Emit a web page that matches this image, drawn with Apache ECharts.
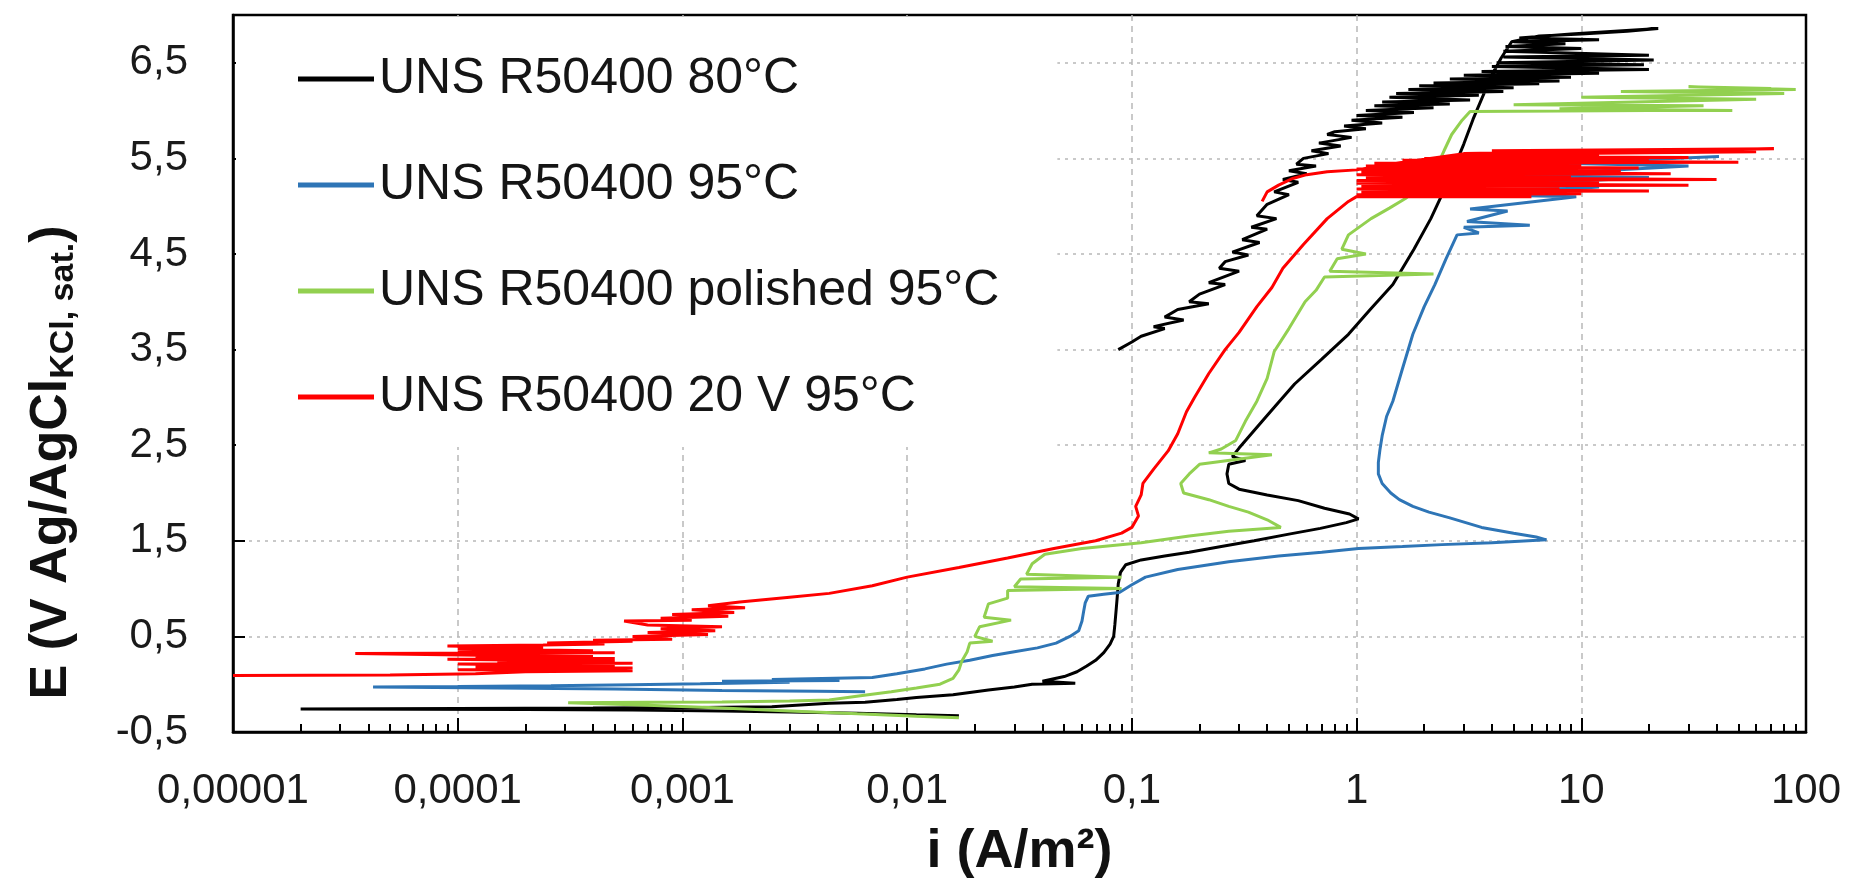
<!DOCTYPE html>
<html>
<head>
<meta charset="utf-8">
<script src="https://cdn.jsdelivr.net/npm/echarts@6/dist/echarts.min.js"></script>
<style>
html,body{margin:0;padding:0;background:#fff;}
#chart{width:1853px;height:884px;}
</style>
</head>
<body>
<div id="chart"></div>
<script>
// ---------- data ----------
const seriesNames = ['UNS R50400 80°C', 'UNS R50400 95°C', 'UNS R50400 polished 95°C', 'UNS R50400 20 V 95°C'];
const seriesColors = ['#000000', '#2e75b6', '#92d050', '#ff0000'];
const xTickLabels = ['0,00001', '0,0001', '0,001', '0,01', '0,1', '1', '10', '100'];
const yTickLabels = ['-0,5', '0,5', '1,5', '2,5', '3,5', '4,5', '5,5', '6,5'];
const minorMultipliers = [2, 3, 4, 5, 6, 7, 8, 9];

// [i (A/m2), E (V)]
const black80 = [
[0.017,-0.33],[0.011,-0.32],[0.006,-0.305],[0.003,-0.29],[0.0015,-0.28],[0.0006,-0.27],[0.0002,-0.265],[0.00002,-0.26],[0.0001,-0.255],[0.0004,-0.25],[0.0012,-0.245],[0.0025,-0.235],[0.0045,-0.2],[0.0065,-0.19],[0.009,-0.16],[0.011,-0.14],[0.016,-0.11],[0.023,-0.06],[0.03,-0.03],[0.036,0.0],[0.056,0.01],[0.04,0.03],[0.05,0.08],[0.057,0.13],[0.063,0.19],[0.069,0.25],[0.075,0.33],[0.08,0.42],[0.083,0.5],[0.084,0.62],[0.085,0.76],[0.086,0.9],[0.087,1.05],[0.089,1.17],[0.094,1.25],[0.11,1.3],[0.14,1.34],[0.18,1.38],[0.25,1.44],[0.35,1.5],[0.5,1.57],[0.69,1.63],[0.9,1.69],[1.02,1.73],[0.93,1.78],[0.72,1.84],[0.55,1.92],[0.4,1.98],[0.3,2.04],[0.27,2.1],[0.265,2.2],[0.27,2.3],[0.32,2.34],[0.28,2.38],[0.3,2.47],[0.38,2.75],[0.45,2.95],[0.53,3.14],[0.7,3.4],[0.92,3.66],[1.15,3.92],[1.45,4.18],[1.8,4.55],[2.14,4.87],[2.4,5.12],[2.7,5.39],[3.0,5.65],[3.3,5.91],[3.6,6.12],[4.0,6.37],[4.4,6.55],[4.9,6.72],[6.5,6.78],[10,6.8],[16,6.83],[22,6.86],
[9,6.8],[5.3,6.76],[12,6.74],[5,6.72],[8.5,6.7],[4.6,6.67],[10,6.65],[4.5,6.62],[20,6.58],[4.5,6.56],[21,6.53],[4.2,6.5],[19,6.48],[4,6.46],[20,6.43],[3.6,6.41],[12,6.39],[3.0,6.37],[9,6.35],[2.6,6.33],[8,6.31],[2.2,6.29],[6.5,6.28],[1.9,6.26],[5,6.24],[1.7,6.22],[4.5,6.2],[1.5,6.18],[3.5,6.16],[1.4,6.14],[3.2,6.11],[1.3,6.09],[2.6,6.07],[1.2,6.05],[2.2,6.03],[1.1,6.0],[1.8,5.98],[1.0,5.95],[1.6,5.93],[0.95,5.9],[1.3,5.87],[0.88,5.84],[1.1,5.81],[0.8,5.78],[0.74,5.75],[0.95,5.72],[0.68,5.66],[0.85,5.63],[0.63,5.58],[0.75,5.55],[0.58,5.5],[0.54,5.44],[0.66,5.42],[0.5,5.37],[0.6,5.34],[0.47,5.28],[0.55,5.25],[0.43,5.15],[0.5,5.12],[0.4,5.02],[0.36,4.9],[0.44,4.87],[0.34,4.78],[0.4,4.76],[0.31,4.65],[0.37,4.62],[0.28,4.52],[0.33,4.49],[0.26,4.42],[0.245,4.35],[0.3,4.32],[0.22,4.2],[0.26,4.18],[0.2,4.08],[0.18,4.0],[0.22,3.98],[0.16,3.92],[0.14,3.84],[0.17,3.81],[0.125,3.74],[0.14,3.72],[0.11,3.64],[0.1,3.58],[0.087,3.5]
];
const blue95 = [
[0.0065,-0.08],[0.004,-0.075],[0.0015,-0.065],[0.0005,-0.05],[0.00015,-0.04],[0.000042,-0.03],[0.0001,-0.025],[0.00026,-0.015],[0.0006,-0.005],[0.0012,0.005],[0.003,0.02],[0.0015,0.03],[0.005,0.04],[0.0025,0.05],[0.007,0.07],[0.009,0.11],[0.012,0.16],[0.015,0.21],[0.019,0.25],[0.024,0.3],[0.03,0.34],[0.038,0.38],[0.046,0.43],[0.053,0.5],[0.058,0.56],[0.06,0.66],[0.061,0.76],[0.062,0.85],[0.064,0.92],[0.075,0.94],[0.088,0.96],[0.1,1.04],[0.115,1.12],[0.16,1.2],[0.27,1.28],[0.45,1.34],[0.7,1.38],[1.02,1.42],[1.6,1.44],[2.4,1.46],[4,1.48],[7.0,1.51],[6.3,1.54],[5,1.58],[3.6,1.64],[2.6,1.74],[2.1,1.8],[1.78,1.86],[1.55,1.93],[1.42,2.0],[1.3,2.1],[1.25,2.2],[1.25,2.32],[1.27,2.45],[1.3,2.6],[1.36,2.8],[1.45,2.96],[1.6,3.3],[1.78,3.66],[2.0,3.95],[2.23,4.18],[2.5,4.45],[2.8,4.7],[3.5,4.72],[3.0,4.78],[5.9,4.8],[3.1,4.84],[4.7,4.95],[3.2,4.97],[9.5,5.1],[3.5,5.12],[12,5.2],[4,5.22],[20,5.3],[5,5.32],[30,5.42],[8,5.45],[41,5.52]
];
const greenPolished = [
[0.017,-0.35],[0.011,-0.335],[0.006,-0.31],[0.003,-0.28],[0.0015,-0.25],[0.0007,-0.22],[0.00031,-0.195],[0.0007,-0.19],[0.0015,-0.185],[0.003,-0.175],[0.0045,-0.165],[0.0062,-0.12],[0.0085,-0.08],[0.011,-0.04],[0.014,0.0],[0.016,0.06],[0.017,0.15],[0.0175,0.24],[0.0185,0.34],[0.019,0.43],[0.024,0.45],[0.02,0.5],[0.021,0.6],[0.029,0.67],[0.022,0.7],[0.023,0.84],[0.028,0.9],[0.028,0.98],[0.09,1.0],[0.03,1.02],[0.032,1.1],[0.09,1.12],[0.034,1.15],[0.036,1.26],[0.041,1.36],[0.06,1.42],[0.11,1.48],[0.18,1.55],[0.27,1.6],[0.46,1.64],[0.4,1.72],[0.33,1.8],[0.27,1.86],[0.22,1.93],[0.17,2.0],[0.165,2.1],[0.18,2.2],[0.2,2.3],[0.42,2.4],[0.22,2.42],[0.25,2.46],[0.29,2.55],[0.32,2.75],[0.36,2.96],[0.4,3.2],[0.43,3.48],[0.5,3.72],[0.59,4.0],[0.66,4.12],[0.72,4.26],[2.2,4.29],[0.76,4.32],[0.82,4.45],[1.1,4.5],[0.86,4.55],[0.92,4.7],[1.16,4.87],[1.4,4.98],[1.65,5.08],[1.95,5.22],[2.25,5.39],[2.45,5.58],[2.65,5.75],[2.95,5.9],[3.2,5.99],[20,6.0],[47,6.0],[8,6.02],[35,6.05],[5,6.06],[60,6.12],[10,6.14],[80,6.18],[15,6.2],[90,6.22],[30,6.25],[70,6.23]
];
const red20V = [
[0.00001,0.09],[0.00005,0.095],[0.00012,0.11],[0.0002,0.13],[0.0006,0.14],[0.0001,0.15],[0.00045,0.16],[0.0006,0.17],[0.00012,0.18],[0.0005,0.19],[0.0001,0.21],[0.0006,0.22],[0.00015,0.23],[0.0005,0.24],[0.00009,0.26],[0.0005,0.27],[0.00012,0.28],[0.0004,0.29],[0.00015,0.3],[0.000035,0.32],[0.0005,0.33],[0.0001,0.34],[0.0004,0.35],[0.0001,0.37],[0.00024,0.38],[0.00009,0.4],[0.00024,0.41],[0.00045,0.42],[0.00025,0.43],[0.0006,0.45],[0.0004,0.46],[0.0009,0.47],[0.0006,0.5],[0.0013,0.52],[0.0007,0.54],[0.0014,0.56],[0.0008,0.58],[0.0015,0.6],[0.0007,0.62],[0.00055,0.66],[0.0011,0.67],[0.0008,0.69],[0.0016,0.71],[0.0009,0.73],[0.0017,0.75],[0.0011,0.78],[0.0019,0.8],[0.0013,0.82],[0.0018,0.86],[0.003,0.91],[0.0045,0.95],[0.007,1.03],[0.01,1.12],[0.017,1.22],[0.028,1.32],[0.045,1.42],[0.069,1.5],[0.09,1.58],[0.1,1.64],[0.107,1.76],[0.104,1.86],[0.11,1.98],[0.112,2.1],[0.125,2.25],[0.145,2.44],[0.16,2.62],[0.175,2.85],[0.19,3.0],[0.22,3.25],[0.26,3.5],[0.3,3.68],[0.36,3.95],[0.42,4.15],[0.47,4.35],[0.58,4.6],[0.74,4.87],[0.92,5.05],
[1.0,5.1],[6,5.1],[1.0,5.12],[10,5.13],[1.05,5.15],[20,5.16],[1.0,5.18],[8,5.19],[1.05,5.21],[30,5.22],[1.0,5.24],[12,5.25],[1.0,5.27],[40,5.28],[1.1,5.3],[9,5.31],[1.0,5.33],[25,5.34],[1.05,5.36],[15,5.37],[1.0,5.39],[18,5.4],[1.1,5.42],[10,5.43],[1.2,5.45],[50,5.46],[1.6,5.48],[20,5.49],[2.0,5.5],[30,5.51],[2.5,5.52],[12,5.53],[3,5.54],[60,5.57],[4,5.58],[72,5.6],[3,5.55],[1.5,5.45],[1.0,5.38],[0.74,5.36],[0.6,5.33],[0.52,5.29],[0.45,5.22],[0.4,5.15],[0.38,5.05]
];
const seriesData = [black80, blue95, greenPolished, red20V];

// ---------- chart ----------
const FONT = "'Liberation Sans', Arial, Helvetica, sans-serif";
const minorTickPositions = [];
for (let k = -5; k < 2; k++) {
  minorMultipliers.forEach(m => minorTickPositions.push(Math.log10(m) + k));
}

const chart = echarts.init(document.getElementById('chart'), null, {renderer: 'canvas'});
const option = {
  animation: false,
  backgroundColor: '#ffffff',
  grid: {
    left: 233, right: 47, top: 15, bottom: 152,
    show: true, borderColor: '#000', borderWidth: 2.5, backgroundColor: 'transparent'
  },
  legend: {
    orient: 'vertical',
    left: 236, top: 17,
    padding: [34, 58, 22, 62],
    backgroundColor: '#ffffff',
    itemGap: 50,
    itemWidth: 76, itemHeight: 5,
    icon: 'rect',
    selectedMode: false,
    textStyle: {fontSize: 50, lineHeight: 56, color: '#151515', fontFamily: FONT},
    data: seriesNames
  },
  xAxis: [
    {
      type: 'log', logBase: 10, min: 0.00001, max: 100,
      gridIndex: 0, position: 'bottom',
      axisLine: {show: true, onZero: false, lineStyle: {color: '#000', width: 2.5}},
      axisTick: {show: true, inside: true, length: 14, lineStyle: {color: '#000', width: 2}},
      axisLabel: {
        margin: 38, fontSize: 42, color: '#1a1a1a', fontFamily: FONT,
        formatter: v => { const idx = Math.round(Math.log10(v)) + 5; return xTickLabels[idx] || ''; }
      },
      splitLine: {show: true, showMinLine: false, showMaxLine: false,
                  lineStyle: {color: '#b8b8b8', width: 1.5, type: [6, 5]}},
      name: 'i (A/m²)', nameLocation: 'middle', nameGap: 93,
      nameTextStyle: {fontSize: 54, fontWeight: 'bold', color: '#111', fontFamily: FONT}
    },
    {
      type: 'value', min: -5, max: 2,
      gridIndex: 0, position: 'bottom',
      axisLine: {show: false, onZero: false},
      axisLabel: {show: false},
      splitLine: {show: false},
      axisTick: {show: true, inside: true, length: 8, customValues: minorTickPositions,
                 lineStyle: {color: '#000', width: 2}}
    }
  ],
  yAxis: {
    type: 'value', min: -0.5, max: 7, interval: 1,
    axisLine: {show: true, onZero: false, lineStyle: {color: '#000', width: 2.5}},
    axisTick: {show: true, inside: true, length: 12, lineStyle: {color: '#000', width: 2}},
    axisLabel: {
      margin: 45, fontSize: 42, color: '#1a1a1a', fontFamily: FONT,
      formatter: v => { if (Math.abs(v - 7) < 1e-6) return ''; return yTickLabels[Math.round(v + 0.5)] || ''; }
    },
    splitLine: {show: true, showMinLine: false, showMaxLine: false,
                lineStyle: {color: '#b8b8b8', width: 1.5, type: [3, 5]}},
    name: '{a|E (V Ag/AgCl}{b|KCl, sat.}{a|)}',
    nameLocation: 'middle', nameGap: 152,
    nameTextStyle: {
      padding: [0, 178, 0, 0],
      rich: {
        a: {fontSize: 52, fontWeight: 'bold', color: '#111', fontFamily: FONT},
        b: {fontSize: 34, fontWeight: 'bold', color: '#111', fontFamily: FONT, padding: [24, 0, 0, 0]}
      }
    }
  },
  series: seriesData.map((d, k) => ({
    name: seriesNames[k],
    type: 'line',
    xAxisIndex: 0, yAxisIndex: 0,
    data: d,
    showSymbol: false, symbol: 'none',
    clip: true,
    color: seriesColors[k],
    lineStyle: {color: seriesColors[k], width: 3},
    z: 2 + k
  }))
};
chart.setOption(option);
</script>
</body>
</html>
